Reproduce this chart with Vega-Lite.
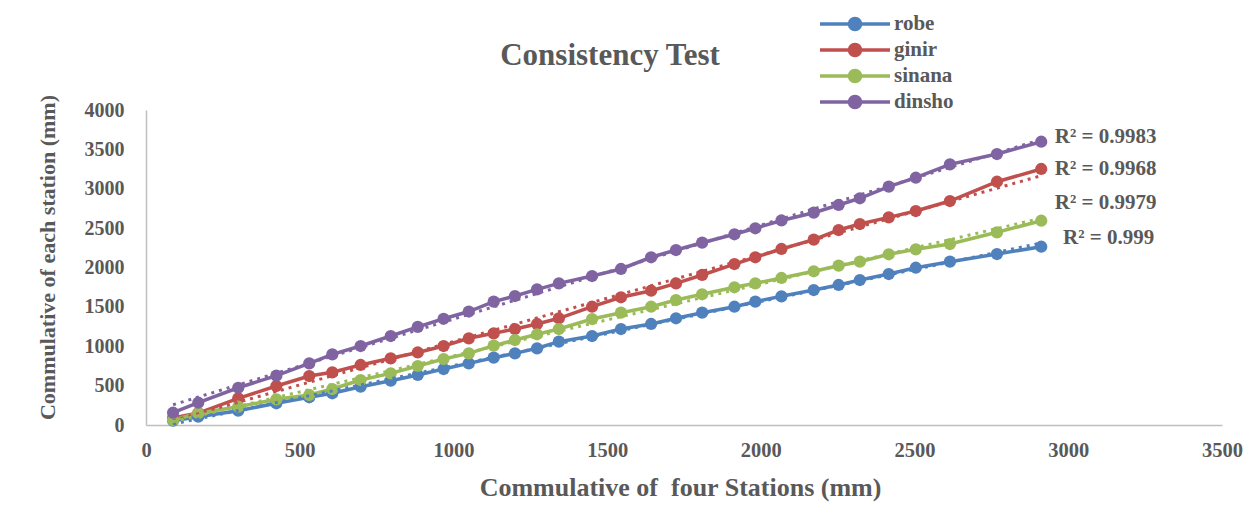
{
  "$schema": "https://vega.github.io/schema/vega-lite/v6.json",
  "width": 1076,
  "height": 315,
  "autosize": {"type": "none"},
  "padding": {"left": 146, "top": 110, "right": 31, "bottom": 96},
  "background": "white",
  "title": {
    "text": "Consistency Test",
    "frame": "group",
    "anchor": "middle",
    "dx": -74,
    "offset": -60,
    "font": "Liberation Serif",
    "fontSize": 31,
    "fontWeight": "bold",
    "color": "#595959"
  },
  "datasets": {
    "series": [
      {"x": 88, "robe": 55, "ginir": 89, "sinana": 63, "dinsho": 156},
      {"x": 170, "robe": 105, "ginir": 152, "sinana": 149, "dinsho": 283},
      {"x": 300, "robe": 182, "ginir": 339, "sinana": 232, "dinsho": 473},
      {"x": 424, "robe": 276, "ginir": 495, "sinana": 326, "dinsho": 626},
      {"x": 531, "robe": 352, "ginir": 622, "sinana": 381, "dinsho": 782},
      {"x": 606, "robe": 403, "ginir": 669, "sinana": 457, "dinsho": 897},
      {"x": 698, "robe": 486, "ginir": 762, "sinana": 571, "dinsho": 1003},
      {"x": 796, "robe": 563, "ginir": 847, "sinana": 656, "dinsho": 1130},
      {"x": 884, "robe": 635, "ginir": 921, "sinana": 749, "dinsho": 1247},
      {"x": 968, "robe": 711, "ginir": 1003, "sinana": 838, "dinsho": 1349},
      {"x": 1050, "robe": 783, "ginir": 1101, "sinana": 910, "dinsho": 1441},
      {"x": 1131, "robe": 855, "ginir": 1164, "sinana": 1007, "dinsho": 1566},
      {"x": 1200, "robe": 910, "ginir": 1219, "sinana": 1079, "dinsho": 1638},
      {"x": 1272, "robe": 974, "ginir": 1283, "sinana": 1152, "dinsho": 1723},
      {"x": 1343, "robe": 1058, "ginir": 1355, "sinana": 1219, "dinsho": 1799},
      {"x": 1451, "robe": 1130, "ginir": 1502, "sinana": 1346, "dinsho": 1892},
      {"x": 1545, "robe": 1219, "ginir": 1622, "sinana": 1426, "dinsho": 1981},
      {"x": 1643, "robe": 1283, "ginir": 1705, "sinana": 1502, "dinsho": 2130},
      {"x": 1724, "robe": 1355, "ginir": 1799, "sinana": 1587, "dinsho": 2222},
      {"x": 1809, "robe": 1426, "ginir": 1905, "sinana": 1660, "dinsho": 2315},
      {"x": 1914, "robe": 1502, "ginir": 2044, "sinana": 1749, "dinsho": 2422},
      {"x": 1982, "robe": 1566, "ginir": 2130, "sinana": 1799, "dinsho": 2498},
      {"x": 2067, "robe": 1634, "ginir": 2235, "sinana": 1867, "dinsho": 2597},
      {"x": 2172, "robe": 1714, "ginir": 2353, "sinana": 1952, "dinsho": 2696},
      {"x": 2253, "robe": 1778, "ginir": 2476, "sinana": 2023, "dinsho": 2794},
      {"x": 2322, "robe": 1841, "ginir": 2552, "sinana": 2074, "dinsho": 2879},
      {"x": 2416, "robe": 1917, "ginir": 2637, "sinana": 2168, "dinsho": 3026},
      {"x": 2504, "robe": 1997, "ginir": 2717, "sinana": 2231, "dinsho": 3140},
      {"x": 2615, "robe": 2074, "ginir": 2844, "sinana": 2298, "dinsho": 3310},
      {"x": 2768, "robe": 2171, "ginir": 3089, "sinana": 2447, "dinsho": 3441},
      {"x": 2912, "robe": 2264, "ginir": 3251, "sinana": 2594, "dinsho": 3597}
    ],
    "labels": [
      {"label": "R² = 0.9983", "lx": 2956, "ly": 3661},
      {"label": "R² = 0.9968", "lx": 2956, "ly": 3251},
      {"label": "R² = 0.9979", "lx": 2956, "ly": 2823},
      {"label": "R² = 0.999", "lx": 2983, "ly": 2378}
    ]
  },
  "layer": [
    {
      "data": {"name": "series"},
      "transform": [{"fold": ["robe", "ginir", "sinana", "dinsho"], "as": ["station", "y"]}],
      "mark": {"type": "line", "strokeWidth": 3.5},
      "encoding": {
        "x": {"field": "x", "type": "quantitative"},
        "y": {"field": "y", "type": "quantitative"},
        "color": {
          "field": "station",
          "type": "nominal",
          "scale": {"domain": ["robe", "ginir", "sinana", "dinsho"], "range": ["#4F81BD", "#C0504D", "#9BBB59", "#8064A2"]},
          "legend": {
            "orient": "none",
            "legendX": 697,
            "legendY": -98,
            "title": null,
            "padding": 0,
            "symbolType": "M-3.5,0H3.5M0.55,0A0.55,0.55,0,1,1,-0.55,0A0.55,0.55,0,1,1,0.55,0Z",
            "symbolSize": 400,
            "symbolStrokeWidth": 3.5,
            "labelOffset": 27,
            "rowPadding": 0,
            "labelFont": "Liberation Serif",
            "labelFontSize": 21,
            "labelFontWeight": "bold",
            "labelColor": "#595959",
            "encode": {
              "symbols": {
                "update": {
                  "fill": {"scale": "color", "field": "value"},
                  "stroke": {"scale": "color", "field": "value"},
                  "opacity": {"value": 1}
                }
              }
            }
          }
        }
      }
    },
    {
      "data": {"name": "series"},
      "transform": [{"fold": ["robe", "ginir", "sinana", "dinsho"], "as": ["station", "y"]}],
      "mark": {"type": "point", "filled": true, "size": 150, "opacity": 1},
      "encoding": {
        "x": {"field": "x", "type": "quantitative"},
        "y": {"field": "y", "type": "quantitative"},
        "color": {"field": "station", "type": "nominal"}
      }
    },
    {
      "data": {"name": "series"},
      "transform": [
        {"fold": ["robe", "ginir", "sinana", "dinsho"], "as": ["station", "y"]},
        {"regression": "y", "on": "x", "groupby": ["station"]}
      ],
      "mark": {"type": "line", "strokeWidth": 3, "strokeDash": [3, 5]},
      "encoding": {
        "x": {"field": "x", "type": "quantitative"},
        "y": {"field": "y", "type": "quantitative"},
        "color": {"field": "station", "type": "nominal"}
      }
    },
    {
      "data": {"name": "labels"},
      "mark": {
        "type": "text",
        "align": "left",
        "baseline": "middle",
        "font": "Liberation Serif",
        "fontSize": 21,
        "fontWeight": "bold",
        "color": "#595959"
      },
      "encoding": {
        "x": {"field": "lx", "type": "quantitative"},
        "y": {"field": "ly", "type": "quantitative"},
        "text": {"field": "label", "type": "nominal"}
      }
    }
  ],
  "encoding": {
    "x": {
      "field": "x",
      "type": "quantitative",
      "scale": {"domain": [0, 3500], "nice": false, "zero": true},
      "axis": {
        "title": "Commulative of \u00a0four Stations (mm)",
        "values": [0, 500, 1000, 1500, 2000, 2500, 3000, 3500],
        "format": "d",
        "grid": false,
        "ticks": false,
        "tickSize": 0,
        "domainColor": "#bfbfbf",
        "domainWidth": 1.5,
        "labelFont": "Liberation Serif",
        "labelFontSize": 20.5,
        "labelFontWeight": "bold",
        "labelColor": "#595959",
        "labelPadding": 15,
        "labelFlush": false,
        "titleFont": "Liberation Serif",
        "titleFontSize": 26,
        "titleFontWeight": "bold",
        "titleColor": "#595959",
        "titleBaseline": "alphabetic",
        "titleY": 70,
        "titleX": 534
      }
    },
    "y": {
      "field": "y",
      "type": "quantitative",
      "scale": {"domain": [0, 4000], "nice": false, "zero": true},
      "axis": {
        "title": "Commulative of each station (mm)",
        "values": [0, 500, 1000, 1500, 2000, 2500, 3000, 3500, 4000],
        "format": "d",
        "grid": false,
        "ticks": false,
        "tickSize": 0,
        "domainColor": "#bfbfbf",
        "domainWidth": 1.5,
        "labelFont": "Liberation Serif",
        "labelFontSize": 20,
        "labelFontWeight": "bold",
        "labelColor": "#595959",
        "labelPadding": 22,
        "labelFlush": false,
        "titleFont": "Liberation Serif",
        "titleFontSize": 22,
        "titleFontWeight": "bold",
        "titleColor": "#595959",
        "titleBaseline": "alphabetic",
        "titleAlign": "center",
        "titleAngle": -90,
        "titleX": -92,
        "titleY": 147
      }
    }
  },
  "resolve": {"scale": {"color": "shared"}},
  "config": {
    "view": {"stroke": null},
    "font": "Liberation Serif"
  }
}
